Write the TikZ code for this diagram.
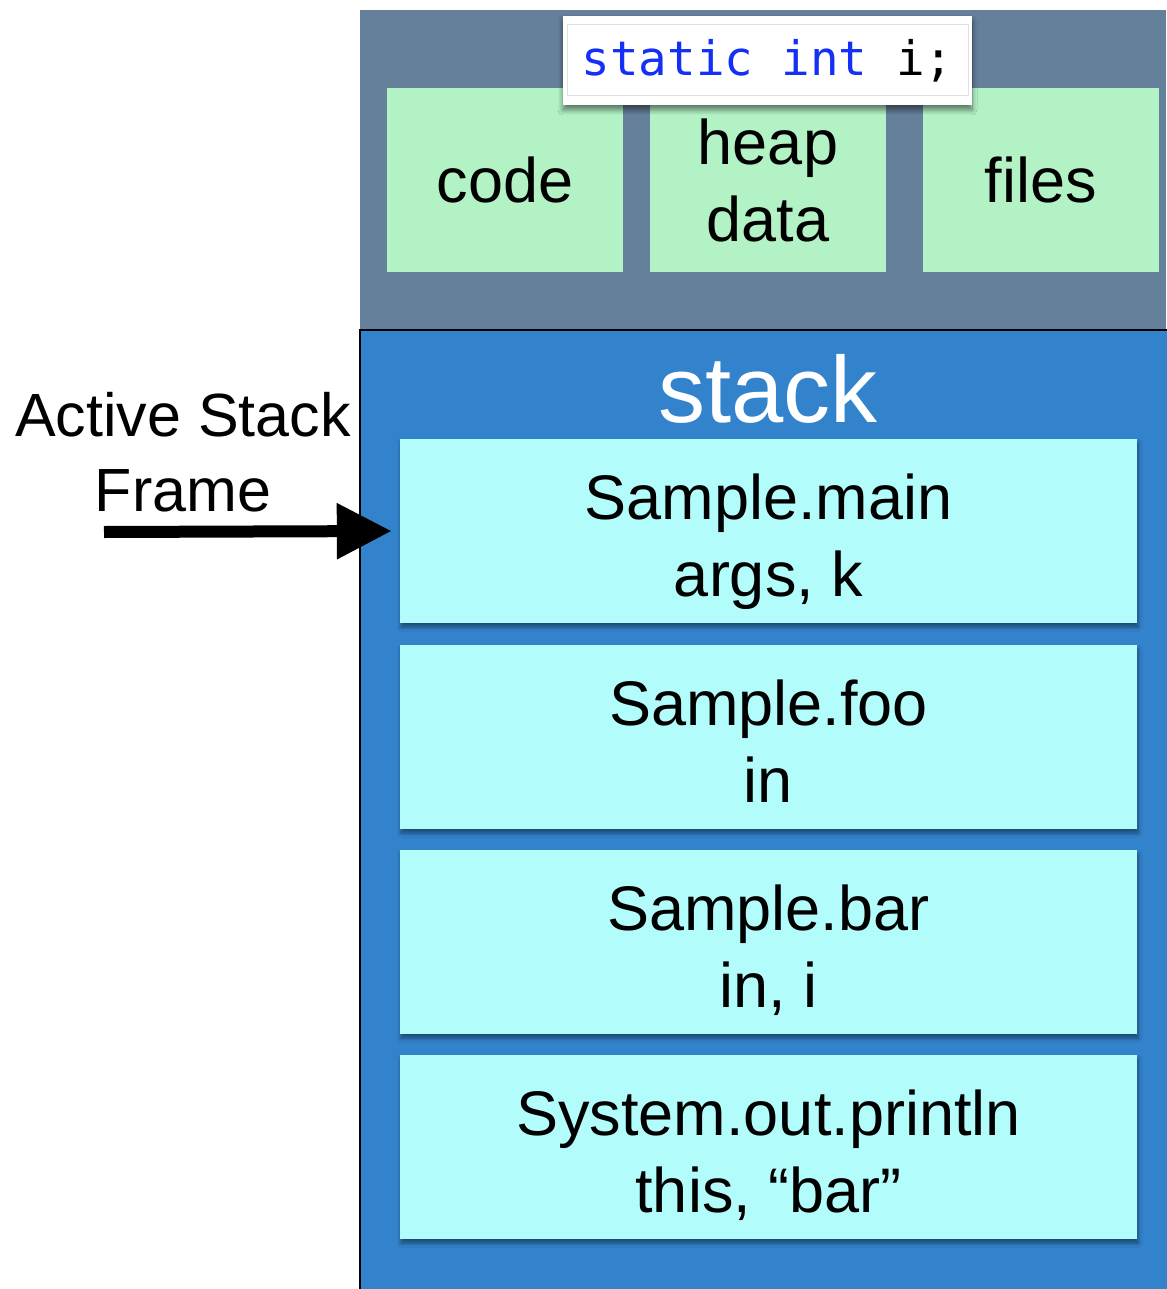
\documentclass[tikz,border=0pt]{standalone}
\usepackage{fontspec}
\setmainfont{Liberation Sans}
\setmonofont{DejaVu Sans Mono}
\usetikzlibrary{arrows.meta,shadows,shadows.blur}
\definecolor{procgray}{HTML}{64809A}
\definecolor{stackblue}{HTML}{3383CC}
\definecolor{areagreen}{HTML}{B2F2C5}
\definecolor{framecyan}{HTML}{B3FCFC}
\definecolor{codeblue}{HTML}{1530F5}
\tikzset{
  area/.style={fill=areagreen, minimum width=236pt, minimum height=184pt, inner sep=0pt,
    font=\fontsize{63}{77}\selectfont, align=center},
  frame/.style={fill=framecyan, minimum width=737pt, minimum height=184pt, inner sep=0pt,
    font=\fontsize{63}{77}\selectfont, align=center, text depth=0pt, text height=131pt,
    blur shadow={shadow xshift=1pt, shadow yshift=-4pt, shadow blur radius=4pt,
      shadow blur steps=8, shadow opacity=45}},
}
\begin{document}
\begin{tikzpicture}[x=1pt,y=-1pt]
\useasboundingbox (0,0) rectangle (1166,1289);
% process area
\node[fill=procgray, minimum width=806pt, minimum height=320pt, inner sep=0pt] (proc) at (763,170) {};
\node[fill=stackblue, draw=black, line width=1.5pt, minimum width=812pt, minimum height=970pt, inner sep=0pt] (stack) at (766,815) {};
% top areas
\node[area] (code) at (505,180) {code};
\node[area, text depth=0pt, text height=124pt] (heap) at (768,180) {heap\\data};
\node[area] (files) at (1041,180) {files};
% static int box
\node[fill=white, minimum width=409pt, minimum height=89pt, inner sep=0pt,
  blur shadow={shadow xshift=0pt, shadow yshift=-5pt, shadow blur radius=5pt,
    shadow blur steps=8, shadow opacity=50}] (static) at (767.5,60.5) {};
\node[draw=black!12, line width=1pt, minimum width=401pt, minimum height=71pt, inner sep=0pt,
  font=\fontsize{47.5}{50}\selectfont\ttfamily] (staticin) at (static.center) {\textcolor{codeblue}{static int} i;};
% stack label
\node[text=white, font=\fontsize{94}{100}\selectfont, anchor=base] (stacklbl) at (768,422) {stack};
% frames
\node[frame] (f1) at (768.5,531) {Sample.main\\args, k};
\node[frame] (f2) at (768.5,737) {Sample.foo\\in};
\node[frame] (f3) at (768.5,942) {Sample.bar\\in, i};
\node[frame] (f4) at (768.5,1147) {System.out.println\\this, “bar”};
% active stack frame label and arrow
\node[font=\fontsize{61}{75}\selectfont, align=center, text depth=0pt] (asf) at (183,452) {Active Stack\\Frame};
\coordinate (afrom) at (104,532);
\draw[line width=12pt, -{Triangle[length=55pt,width=53pt]}, shorten >=8pt] (afrom) -- (f1.west);
\end{tikzpicture}
\end{document}
